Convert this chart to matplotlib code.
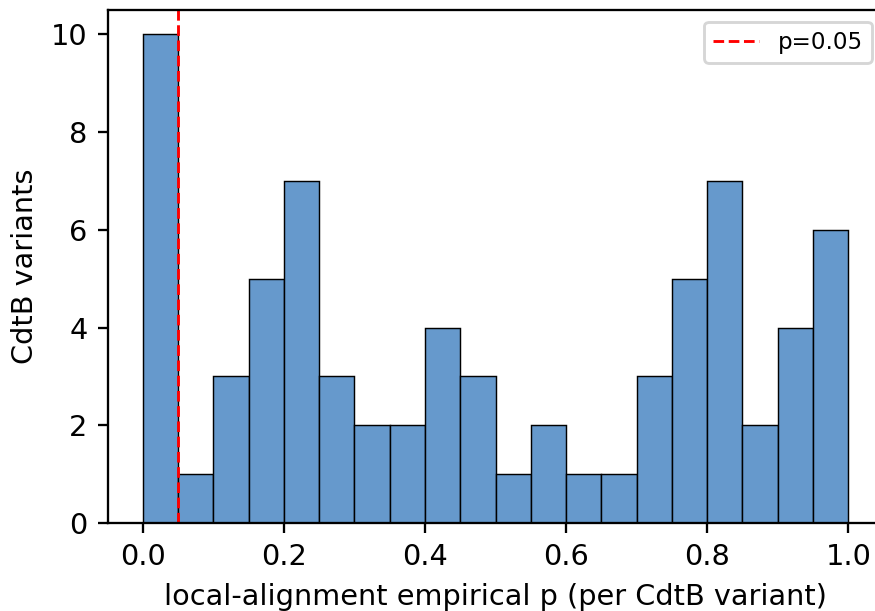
import numpy as np
import matplotlib
matplotlib.use("Agg")
import matplotlib.pyplot as plt

# empirical p-value histogram, 20 bins over [0, 1]
bin_edges = np.linspace(0.0, 1.0, 21)
counts = [10, 1, 3, 5, 7, 3, 2, 2, 4, 3, 1, 2, 1, 1, 3, 5, 7, 2, 4, 6]
threshold = 0.05

DPI = 207
fig = plt.figure(figsize=(875 / DPI, 611 / DPI), dpi=DPI)
ax = fig.add_axes([0.1229, 0.144, 0.8869, 0.8396])

ax.hist(bin_edges[:-1], bins=bin_edges, weights=counts,
        color="#6699cc", edgecolor="black", linewidth=0.5)
ax.axvline(threshold, color="red", linestyle="--", linewidth=1.0,
           label=f"p={threshold}")

ax.set_xlabel("local-alignment empirical p (per CdtB variant)")
ax.set_ylabel("CdtB variants")
ax.legend(loc="upper right", fontsize=8)

fig.savefig("out.png", dpi=DPI)
